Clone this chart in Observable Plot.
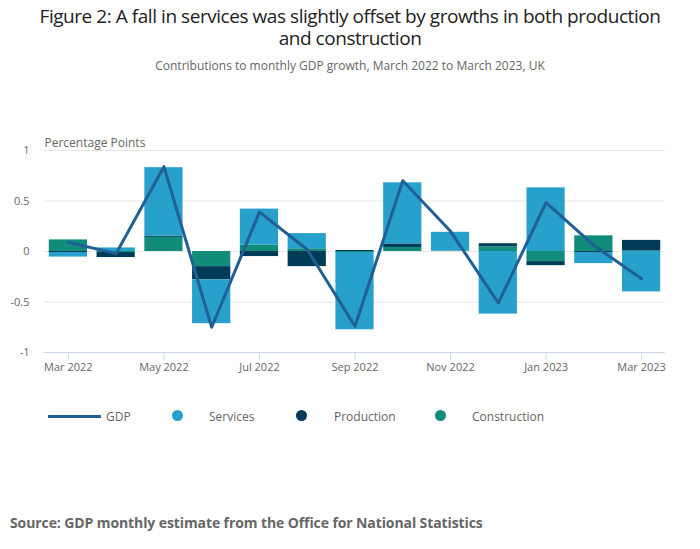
<!DOCTYPE html>
<html><head><meta charset="utf-8">
<script src="https://cdn.jsdelivr.net/npm/d3@7"></script>
<script src="https://cdn.jsdelivr.net/npm/@observablehq/plot@0.6"></script>
<style>
body{margin:0;width:700px;height:549px;background:#fff;font-family:"Open Sans",sans-serif;position:relative;overflow:hidden}
.title{position:absolute;left:0;width:700px;text-align:center;font-size:19px;line-height:20px;color:#222;letter-spacing:-0.45px}
#subtitle{position:absolute;top:57px;left:0;width:700px;text-align:center;font-size:12px;color:#666}
#chart{position:absolute;top:120px;left:0}
#legend{position:absolute;top:408px;left:0;width:700px;height:20px;font-size:12px;color:#666}
#legend span{position:absolute;top:0}
#source{position:absolute;top:513px;left:10px;font-size:14px;font-weight:bold;color:#666;letter-spacing:-0.1px}
</style></head><body>
<div class="title" style="top:6px">Figure 2: A fall in services was slightly offset by growths in both production</div>
<div class="title" style="top:28px">and construction</div>
<div id="subtitle">Contributions to monthly GDP growth, March 2022 to March 2023, UK</div>
<div id="chart"></div>
<div id="legend"></div>
<div id="source">Source: GDP monthly estimate from the Office for National Statistics</div>
<script>
const months = ["Mar 2022","Apr 2022","May 2022","Jun 2022","Jul 2022","Aug 2022","Sep 2022","Oct 2022","Nov 2022","Dec 2022","Jan 2023","Feb 2023","Mar 2023"];
const services = [-0.045, 0.035, 0.68, -0.435, 0.355, 0.15, -0.765, 0.605, 0.185, -0.62, 0.63, -0.11, -0.40];
const production = [-0.01, -0.05, 0.01, -0.13, -0.05, -0.15, 0.01, 0.035, 0.0, 0.03, -0.04, -0.01, 0.105];
const construction = [0.115, -0.01, 0.14, -0.15, 0.065, 0.027, -0.01, 0.04, 0.005, 0.047, -0.10, 0.155, 0.005];
const gdp = [0.09, -0.02, 0.84, -0.75, 0.39, 0.02, -0.74, 0.70, 0.20, -0.51, 0.485, 0.06, -0.27];
const seriesNames = ["Construction","Production","Services"];
const colors = {"Services":"#27a0cc","Production":"#003c57","Construction":"#118c7b"};
const yTicks = [-1,-0.5,0,0.5,1];
const xTicks = ["Mar 2022","May 2022","Jul 2022","Sep 2022","Nov 2022","Jan 2023","Mar 2023"];

const bars = [];
const src = {Construction: construction, Production: production, Services: services};
months.forEach((m,i)=>{ for (const s of seriesNames) bars.push({month:m, series:s, value:src[s][i]}); });
const line = months.map((m,i)=>({month:m, value:gdp[i]}));

const chart = Plot.plot({
  width:700, height:262,
  marginLeft:44, marginRight:35, marginTop:30, marginBottom:30,
  style:{fontFamily:"Open Sans, sans-serif", fontSize:"11px", color:"#666", background:"transparent"},
  x:{type:"band", domain:months, paddingInner:0.2, paddingOuter:0.1, round:false, ticks:xTicks, tickSize:8, tickPadding:3, label:null},
  y:{domain:[-1,1], ticks:yTicks, tickFormat:d=>String(d), tickSize:0, tickPadding:15, label:null},
  color:{domain:Object.keys(colors), range:Object.values(colors)},
  marks:[
    Plot.ruleY([-0.5,0,0.5,1],{stroke:"#e6e6e6"}),
    Plot.ruleY([-1],{stroke:"#ccd6eb"}),
    Plot.barY(bars,{x:"month", y:"value", fill:"series", order:seriesNames}),
    Plot.line(line,{x:"month", y:"value", stroke:"#206095", strokeWidth:3}),
    Plot.text(["Percentage Points"],{frameAnchor:"top-left", dy:-12, fontSize:12, fill:"#666", textAnchor:"start"})
  ]
});
chart.querySelectorAll('[aria-label="x-axis tick"] path, [aria-label="x-axis"] path').forEach(p=>p.setAttribute("stroke","#ccd6eb"));
document.getElementById("chart").appendChild(chart);

const lg = document.getElementById("legend");
const legendItems = [
  {name:"GDP", type:"line", x:48, tx:106},
  {name:"Services", type:"dot", x:178, tx:209},
  {name:"Production", type:"dot", x:302, tx:334},
  {name:"Construction", type:"dot", x:441, tx:472}
];
let html = "";
for (const it of legendItems) {
  if (it.type==="line") html += `<span style="left:${it.x}px;top:7px;width:53px;height:3px;background:#206095"></span>`;
  else html += `<span style="left:${it.x-6}px;top:2px;width:11px;height:11px;border-radius:50%;background:${colors[it.name]}"></span>`;
  html += `<span style="left:${it.tx}px;top:0;">${it.name}</span>`;
}
lg.innerHTML = html;
</script>
</body></html>
